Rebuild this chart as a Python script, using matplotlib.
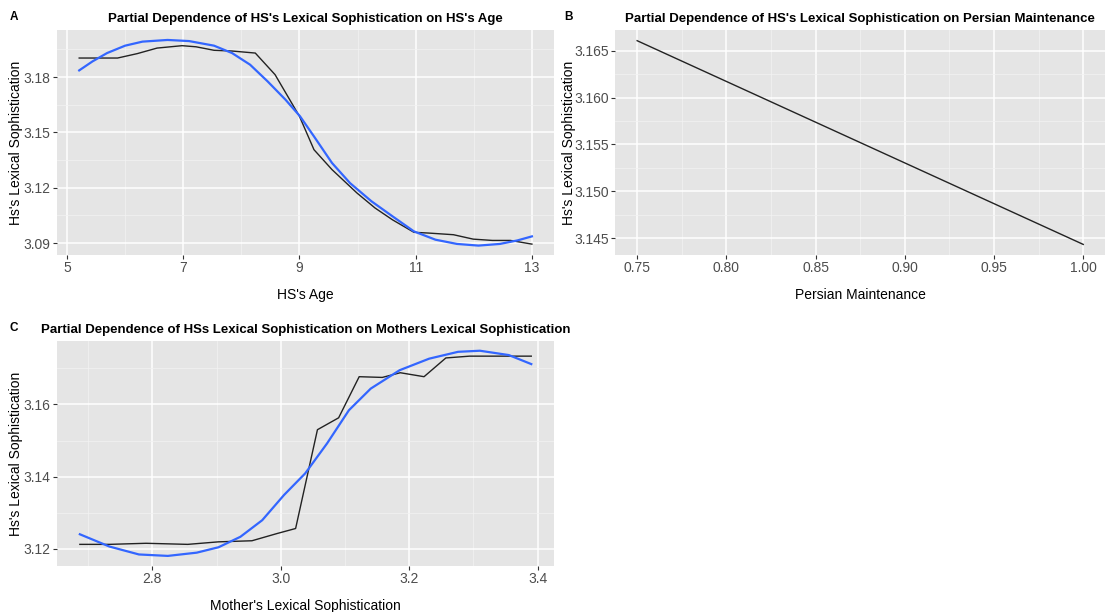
import matplotlib
matplotlib.use("Agg")
import matplotlib.pyplot as plt
from matplotlib.ticker import MultipleLocator

plt.rcParams["font.family"] = ["Liberation Sans", "DejaVu Sans"]

# Panel A: HS's age
age_x = [5.21, 5.87, 6.21, 6.55, 6.98, 7.22, 7.53, 7.84, 8.24, 8.58, 9.0, 9.25,
         9.56, 9.99, 10.30, 10.60, 10.97, 11.22, 11.65, 11.99, 12.32, 12.63, 13.0]
age_y = [3.1903, 3.1903, 3.1927, 3.1957, 3.1970, 3.1964, 3.1945, 3.1941, 3.1930,
         3.1813, 3.1587, 3.1406, 3.1298, 3.1171, 3.1090, 3.1026, 3.0958, 3.0954,
         3.0945, 3.0921, 3.0914, 3.0914, 3.0894]
age_smooth_x = [5.21, 5.44, 5.69, 6.00, 6.30, 6.73, 7.10, 7.53, 7.84, 8.15, 8.45,
                8.76, 9.01, 9.25, 9.56, 9.87, 10.24, 10.60, 10.97, 11.34, 11.71,
                12.08, 12.45, 12.75, 13.0]
age_smooth_y = [3.1836, 3.1885, 3.1930, 3.1970, 3.1992, 3.2001, 3.1995, 3.1970,
                3.1930, 3.1867, 3.1777, 3.1677, 3.1587, 3.1478, 3.1334, 3.1225,
                3.1126, 3.1045, 3.0963, 3.0918, 3.0895, 3.0886, 3.0895, 3.0914,
                3.0936]

# Panel B: Persian maintenance
pm_x = [0.75, 1.00]
pm_y = [3.16606, 3.14433]

# Panel C: mother's lexical sophistication
mls_x = [2.687, 2.733, 2.790, 2.855, 2.903, 2.955, 2.994, 3.023, 3.057, 3.090,
         3.122, 3.158, 3.186, 3.223, 3.257, 3.294, 3.345, 3.390]
mls_y = [3.1212, 3.1212, 3.1215, 3.1212, 3.1219, 3.1222, 3.1242, 3.1256, 3.1530,
         3.1563, 3.1677, 3.1675, 3.1688, 3.1677, 3.1729, 3.1734, 3.1734, 3.1734]
mls_smooth_x = [2.687, 2.733, 2.779, 2.824, 2.869, 2.903, 2.937, 2.971, 3.005,
                3.038, 3.072, 3.106, 3.140, 3.185, 3.231, 3.276, 3.310, 3.355, 3.390]
mls_smooth_y = [3.1240, 3.1206, 3.1184, 3.1180, 3.1189, 3.1204, 3.1233, 3.1279,
                3.1349, 3.1409, 3.1492, 3.1584, 3.1644, 3.1695, 3.1727, 3.1746,
                3.1749, 3.1737, 3.1712]

W, H = 1107, 612
BG = "#E5E5E5"
TICK_COL = "#4D4D4D"


def make_axes(fig, left, top, right, bottom):
    ax = fig.add_axes([left / W, 1 - bottom / H, (right - left) / W, (bottom - top) / H])
    ax.set_facecolor(BG)
    for s in ax.spines.values():
        s.set_visible(False)
    ax.grid(which="major", color="white", linewidth=1.1)
    ax.grid(which="minor", color="#F2F2F2", linewidth=0.55)
    ax.set_axisbelow(True)
    ax.tick_params(which="major", length=3, width=0.8, color="#333333",
                   labelcolor=TICK_COL, labelsize=10, pad=1.5)
    ax.tick_params(which="minor", length=0)
    return ax


def label_axes(ax, xlabel, title, ylab_x):
    ax.set_xlabel(xlabel, fontsize=10, labelpad=9)
    ax.set_ylabel("Hs's Lexical Sophistication", fontsize=10)
    ax.yaxis.set_label_coords(ylab_x, 0.5)
    ax.set_title(title, fontsize=9.5, fontweight="bold", pad=6)


fig = plt.figure(figsize=(W / 100, H / 100), dpi=100)

# A
ax = make_axes(fig, 57, 30, 554, 255)
ax.plot(age_x, age_y, color="#222222", linewidth=1.0)
ax.plot(age_smooth_x, age_smooth_y, color="#3366FF", linewidth=1.6)
ax.set_xlim(4.828, 13.38)
ax.set_ylim(3.0835, 3.2055)
ax.set_xticks([5, 7, 9, 11, 13])
ax.xaxis.set_minor_locator(MultipleLocator(1))
ax.set_yticks([3.09, 3.12, 3.15, 3.18])
ax.set_yticklabels(["3.09", "3.12", "3.15", "3.18"])
ax.set_yticks([3.105, 3.135, 3.165, 3.195], minor=True)
label_axes(ax, "HS's Age", "Partial Dependence of HS's Lexical Sophistication on HS's Age", -0.068)
fig.text(14 / W, 1 - 17 / H, "A", fontsize=8.5, fontweight="bold", va="center", ha="center")

# B
ax = make_axes(fig, 615, 30, 1105, 255)
ax.plot(pm_x, pm_y, color="#222222", linewidth=1.0)
ax.set_xlim(0.7376, 1.0122)
ax.set_ylim(3.1432, 3.1672)
ax.set_xticks([0.75, 0.80, 0.85, 0.90, 0.95, 1.00])
ax.set_xticklabels(["0.75", "0.80", "0.85", "0.90", "0.95", "1.00"])
ax.xaxis.set_minor_locator(MultipleLocator(0.025))
ax.set_yticks([3.145, 3.150, 3.155, 3.160, 3.165])
ax.set_yticklabels(["3.145", "3.150", "3.155", "3.160", "3.165"])
ax.yaxis.set_minor_locator(MultipleLocator(0.0025))
label_axes(ax, "Persian Maintenance",
           "Partial Dependence of HS's Lexical Sophistication on Persian Maintenance", -0.080)
fig.text(568 / W, 1 - 17 / H, "B", fontsize=8.5, fontweight="bold", va="center", ha="center")

# C
ax = make_axes(fig, 57, 341, 554, 566)
ax.plot(mls_x, mls_y, color="#222222", linewidth=1.0)
ax.plot(mls_smooth_x, mls_smooth_y, color="#3366FF", linewidth=1.6)
ax.set_xlim(2.6514, 3.4254)
ax.set_ylim(3.1152, 3.1776)
ax.set_xticks([2.8, 3.0, 3.2, 3.4])
ax.set_xticklabels(["2.8", "3.0", "3.2", "3.4"])
ax.xaxis.set_minor_locator(MultipleLocator(0.1))
ax.set_yticks([3.12, 3.14, 3.16])
ax.set_yticklabels(["3.12", "3.14", "3.16"])
ax.set_yticks([3.13, 3.15, 3.17], minor=True)
label_axes(ax, "Mother's Lexical Sophistication",
           "Partial Dependence of HSs Lexical Sophistication on Mothers Lexical Sophistication", -0.068)
fig.text(14 / W, 1 - 328 / H, "C", fontsize=8.5, fontweight="bold", va="center", ha="center")

fig.savefig("out.png", dpi=100, facecolor="white")
